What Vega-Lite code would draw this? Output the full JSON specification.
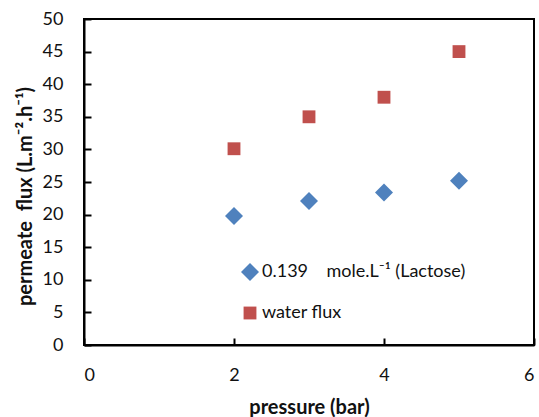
{
  "$schema": "https://vega.github.io/schema/vega-lite/v6.json",
  "width": 450,
  "height": 326,
  "autosize": {"type": "none"},
  "padding": {"left": 84, "top": 19, "right": 5, "bottom": 72},
  "background": "white",
  "config": {
    "font": "Lato",
    "view": {"stroke": "black", "strokeWidth": 2},
    "axis": {
      "grid": false,
      "domainColor": "black",
      "domainWidth": 2,
      "tickColor": "black",
      "tickWidth": 2,
      "tickSize": -7,
      "labelFont": "Lato",
      "labelFontSize": 18,
      "labelColor": "#111111",
      "titleFont": "Lato",
      "titleFontSize": 20,
      "titleFontWeight": "bold",
      "titleColor": "#111111"
    }
  },
  "data": {
    "values": [
      {"pressure": 2, "flux": 19.8, "series": "0.139\u00a0\u00a0\u00a0\u00a0mole.L⁻¹ (Lactose)"},
      {"pressure": 3, "flux": 22.1, "series": "0.139\u00a0\u00a0\u00a0\u00a0mole.L⁻¹ (Lactose)"},
      {"pressure": 4, "flux": 23.4, "series": "0.139\u00a0\u00a0\u00a0\u00a0mole.L⁻¹ (Lactose)"},
      {"pressure": 5, "flux": 25.2, "series": "0.139\u00a0\u00a0\u00a0\u00a0mole.L⁻¹ (Lactose)"},
      {"pressure": 2, "flux": 30.1, "series": "water flux"},
      {"pressure": 3, "flux": 35.0, "series": "water flux"},
      {"pressure": 4, "flux": 38.0, "series": "water flux"},
      {"pressure": 5, "flux": 45.0, "series": "water flux"}
    ]
  },
  "mark": {"type": "point", "filled": true, "opacity": 1},
  "encoding": {
    "x": {
      "field": "pressure",
      "type": "quantitative",
      "title": "pressure (bar)",
      "scale": {"domain": [0, 6], "nice": false},
      "axis": {"values": [0, 2, 4, 6], "labelPadding": 28, "titleY": 62, "titleBaseline": "middle"}
    },
    "y": {
      "field": "flux",
      "type": "quantitative",
      "title": "permeate\u00a0\u00a0flux (L.m⁻².h⁻¹)",
      "scale": {"domain": [0, 50], "nice": false},
      "axis": {"values": [0, 5, 10, 15, 20, 25, 30, 35, 40, 45, 50], "labelPadding": 28, "titleX": -59, "titleY": 177, "titleBaseline": "middle"}
    },
    "color": {
      "field": "series",
      "type": "nominal",
      "scale": {"domain": ["0.139\u00a0\u00a0\u00a0\u00a0mole.L⁻¹ (Lactose)", "water flux"], "range": ["#4F81BD", "#C0504D"]},
      "legend": {
        "title": null,
        "orient": "none",
        "legendX": 156,
        "legendY": 243,
        "labelFontSize": 18,
        "labelFont": "Lato",
        "labelColor": "#111111",
        "labelLimit": 400,
        "labelOffset": 2,
        "rowPadding": 23,
        "symbolOpacity": 1,
        "encode": {
          "symbols": {
            "update": {
              "size": {"signal": "datum.value === 'water flux' ? 165 : 220"}
            }
          }
        }
      }
    },
    "shape": {
      "field": "series",
      "type": "nominal",
      "scale": {"domain": ["0.139\u00a0\u00a0\u00a0\u00a0mole.L⁻¹ (Lactose)", "water flux"], "range": ["diamond", "square"]}
    },
    "size": {
      "field": "series",
      "type": "nominal",
      "scale": {"domain": ["0.139\u00a0\u00a0\u00a0\u00a0mole.L⁻¹ (Lactose)", "water flux"], "range": [324, 165]}
    }
  }
}
